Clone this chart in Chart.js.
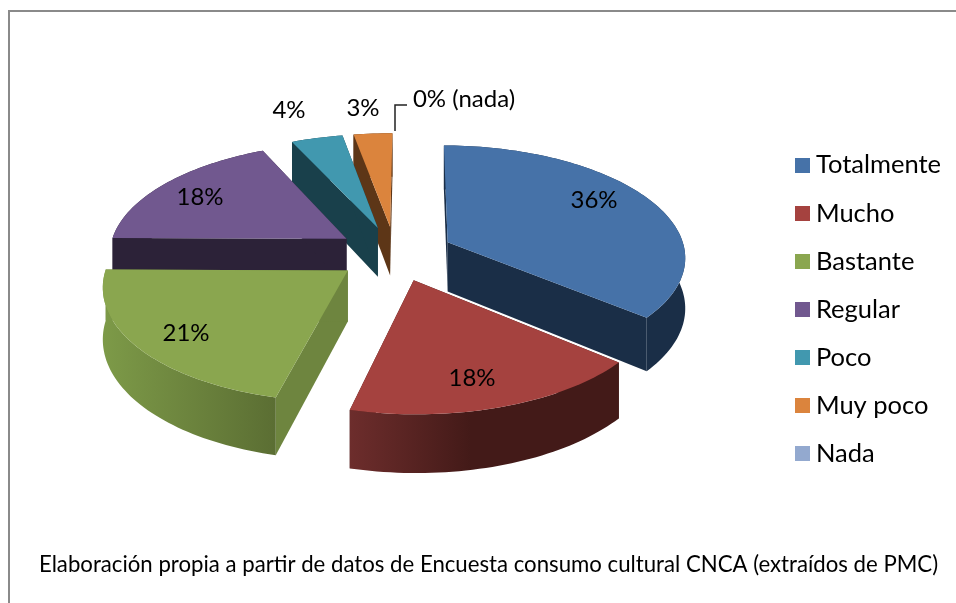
<!DOCTYPE html>
<html>
<head>
<meta charset="utf-8">
<script src="https://cdn.jsdelivr.net/npm/chart.js@4"></script>
<style>
html,body{margin:0;padding:0;background:#fff;}
#frame{position:absolute;left:8px;top:10px;width:948px;height:593px;box-sizing:border-box;border-top:2px solid #8a8a8a;border-left:2px solid #8a8a8a;}
#wrap{position:absolute;left:0;top:0;width:956px;height:603px;}
</style>
</head>
<body>
<div id="frame"></div>
<div id="wrap"><canvas id="c" width="956" height="603"></canvas></div>
<script>
const categories = ['Totalmente','Mucho','Bastante','Regular','Poco','Muy poco','Nada'];
const values = [36,17.7,21.3,18,4,3,0];
const labelSuffixes = ['','','','','','',' (nada)'];
const topColors = ['#4672A8','#A5423F','#8AA64F','#71588F','#4198AF','#DB843D','#93A9CF'];
const cutWallColors = ['#1A2E47','#431A18','#6E853F','#2C2238','#19404B','#5D3617','#3A4A66'];
const outerWallFrom = ['#1A2E47','#6D2D2C','#7D9A48','#2C2238','#19404B','#5D3617','#3A4A66'];
const outerWallTo = ['#1A2E47','#431A18','#5B6E33','#2C2238','#19404B','#5D3617','#3A4A66'];
const labelCenters = [[594,200],[472,378],[186,333],[200,197],[289,110],[363,108],[464,99]];
const paintOrder = [5,4,3,0,2,1];
const FONT = 'Lato, Carlito, Calibri, sans-serif';

const view = {cx:395, cy:253.5, A:238, B:111, k:0.12, depth:50};
function project(X,V,down){
  const w = 1 + view.k*V;
  return [view.cx + view.A*X/w, view.cy - view.B*V/w + (down? view.depth/w : 0)];
}
function swatch(color){
  const c = document.createElement('canvas');
  c.width = 15; c.height = 15;
  const x = c.getContext('2d');
  x.fillStyle = color; x.fillRect(0,0,15,15);
  return c;
}

const tilted = {
  id:'tilted',
  beforeDatasetDraw(chart,args){
    const ctx = chart.ctx;
    const arcs = chart.getDatasetMeta(args.index).data;
    const poly = pts => { ctx.beginPath(); pts.forEach((p,i)=> i?ctx.lineTo(p[0],p[1]):ctx.moveTo(p[0],p[1])); ctx.closePath(); };
    paintOrder.forEach(i=>{
      const a = arcs[i];
      if(!values[i]) return;
      const s = a.startAngle + Math.PI/2, t = a.endAngle + Math.PI/2;
      const mid = (s+t)/2, e = a.options.offset/a.outerRadius;
      const ox = e*Math.sin(mid), oy = e*Math.cos(mid);
      const rim = [];
      const n = Math.max(8,Math.ceil((t-s)*40));
      for(let j=0;j<=n;j++){
        const th = s+(t-s)*j/n;
        rim.push([ox+Math.sin(th), oy+Math.cos(th)]);
      }
      const apex = [ox,oy];
      const ring = (list,down)=>list.map(p=>project(p[0],p[1],down));
      ctx.fillStyle = cutWallColors[i];
      [rim[0],rim[n]].forEach(p=>{
        poly([project(apex[0],apex[1],false),project(p[0],p[1],false),project(p[0],p[1],true),project(apex[0],apex[1],true)]);
        ctx.fill();
      });
      const rTop = ring(rim,false), rBot = ring(rim,true);
      const xs = rTop.map(p=>p[0]);
      const g = ctx.createLinearGradient(Math.min(...xs),0,Math.max(...xs),0);
      g.addColorStop(0,outerWallFrom[i]);
      g.addColorStop(i===1?0.45:1,outerWallTo[i]);
      ctx.fillStyle = g;
      poly(rTop.concat(rBot.slice().reverse()));
      ctx.fill();
      ctx.fillStyle = topColors[i];
      poly([project(apex[0],apex[1],false)].concat(rTop));
      ctx.fill();
    });
    return false;
  },
  afterDatasetsDraw(chart){
    const ctx = chart.ctx;
    ctx.save();
    ctx.fillStyle = '#000';
    ctx.font = '24px '+FONT;
    ctx.textAlign = 'center';
    ctx.textBaseline = 'middle';
    values.forEach((v,i)=>ctx.fillText(Math.round(v)+'%'+labelSuffixes[i],labelCenters[i][0],labelCenters[i][1]));
    ctx.strokeStyle = '#222';
    ctx.lineWidth = 1.5;
    ctx.beginPath();
    ctx.moveTo(407,105); ctx.lineTo(395,105); ctx.lineTo(395,131);
    ctx.stroke();
    ctx.restore();
  }
};

new Chart(document.getElementById('c'),{
  type:'pie',
  data:{labels:categories,datasets:[{data:values,backgroundColor:topColors,borderWidth:0,offset:56}]},
  plugins:[tilted],
  options:{
    responsive:false,
    animation:false,
    rotation:0.5,
    layout:{padding:{top:41,left:26,right:5,bottom:25}},
    plugins:{
      tooltip:{enabled:false},
      legend:{
        position:'right',
        align:'center',
        labels:{
          usePointStyle:true,pointStyleWidth:1,boxHeight:15,padding:22.6,color:'#000',
          font:{family:FONT,size:25.5},
          generateLabels(chart){
            return Chart.overrides.pie.plugins.legend.labels.generateLabels(chart)
              .map((it,i)=>Object.assign(it,{pointStyle:swatch(topColors[i])}));
          }
        }
      },
      title:{
        display:true,
        position:'bottom',
        text:'Elaboración propia a partir de datos de Encuesta consumo cultural CNCA (extraídos de PMC)',
        color:'#000',
        font:{family:FONT,size:22.2,weight:'normal'},
        padding:{top:0,bottom:0}
      }
    }
  }
});
</script>
</body>
</html>
